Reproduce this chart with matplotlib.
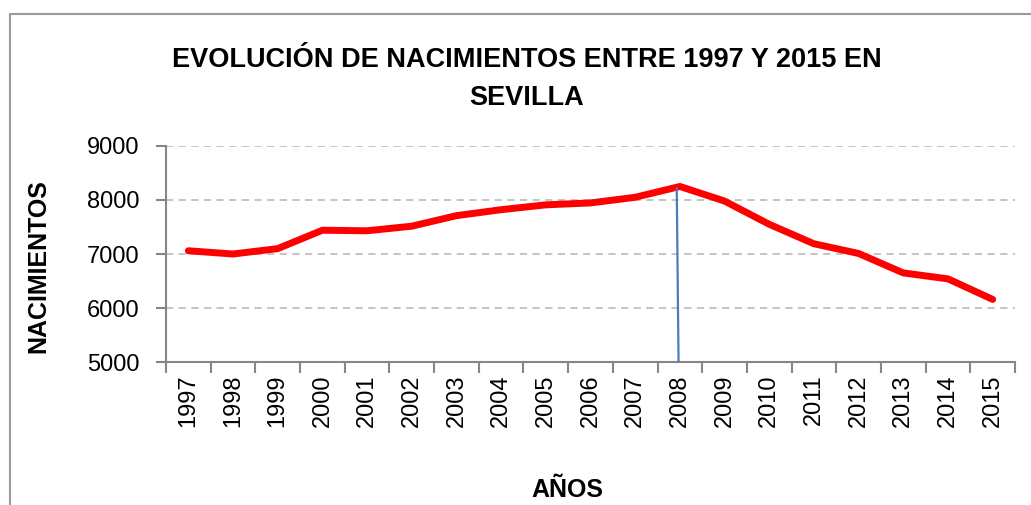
import numpy as np
import matplotlib
matplotlib.use('Agg')
import matplotlib.pyplot as plt
from matplotlib.patches import Rectangle

# Data
years = [str(y) for y in range(1997, 2016)]
births = [7060, 7000, 7100, 7440, 7430, 7515, 7710, 7820, 7910, 7945,
          8050, 8250, 7980, 7550, 7190, 7010, 6650, 6540, 6160]
marker_year = '2008'

plt.rcParams['font.family'] = ['Liberation Sans', 'DejaVu Sans']

fig = plt.figure(figsize=(10.31, 5.05), dpi=100)
ax = fig.add_axes([0.161, 0.283, 0.8235, 0.428])

# outer chart frame
fig.patches.append(Rectangle((10 / 1031, -0.1), 1.2, 1 - 14 / 505 + 0.1,
                             transform=fig.transFigure, fill=False,
                             edgecolor='#9a9a9a', linewidth=1.5))

x = np.arange(len(years))
ax.plot(x, births, color='#ff0000', linewidth=5, solid_capstyle='round', zorder=3)

# blue marker line at 2008
i = years.index(marker_year)
ax.plot([i - 0.07, i - 0.03], [births[i] - 40, 5000], color='#4a7ebb', linewidth=1.6, zorder=4)

ax.set_ylim(5000, 9000)
ax.set_xlim(-0.5, len(years) - 0.5)
ax.set_yticks([5000, 6000, 7000, 8000, 9000])
ax.tick_params(axis='y', labelsize=17, length=7, color='#868686', width=1.5, pad=12)
ax.yaxis.grid(True, linestyle=(0, (4, 3)), color='#bfbfbf', linewidth=1.3)
ax.set_axisbelow(True)

ax.set_xticks(x)
ax.set_xticklabels(years, rotation=90, fontsize=17)
ax.tick_params(axis='x', length=0, pad=9)
ax.set_xticks(np.arange(len(years) + 1) - 0.5, minor=True)
ax.tick_params(axis='x', which='minor', length=8, color='#868686', width=1.5)

for s in ['top', 'right']:
    ax.spines[s].set_visible(False)
for s in ['left', 'bottom']:
    ax.spines[s].set_color('#868686')
    ax.spines[s].set_linewidth(1.5)

fig.text(0.511, 0.882, 'EVOLUCIÓN DE NACIMIENTOS ENTRE 1997 Y 2015 EN',
         ha='center', va='center', fontsize=19.5, fontweight='bold')
fig.text(0.511, 0.806, 'SEVILLA', ha='center', va='center', fontsize=19.5, fontweight='bold')
fig.text(0.037, 0.473, 'NACIMIENTOS', rotation=90, ha='center', va='center',
         fontsize=18, fontweight='bold')
fig.text(0.55, 0.03, 'AÑOS', ha='center', va='center', fontsize=18, fontweight='bold')

plt.savefig('out.png', dpi=100)
